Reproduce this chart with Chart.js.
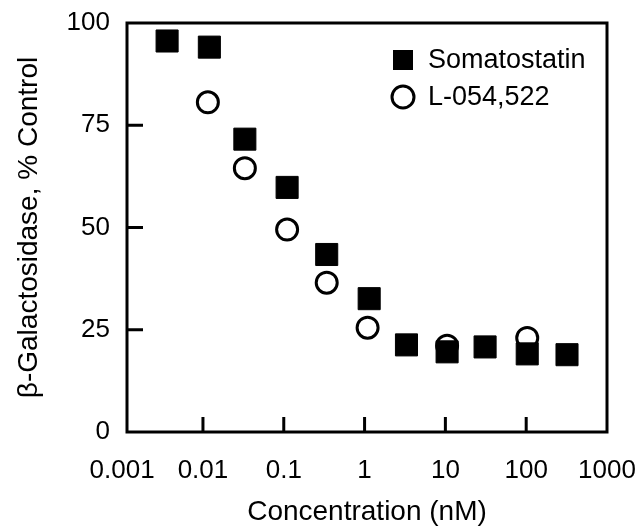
<!DOCTYPE html>
<html>
<head>
<meta charset="utf-8">
<script src="https://cdn.jsdelivr.net/npm/chart.js@4/dist/chart.umd.min.js"></script>
<style>
  body { margin: 0; background: #fff; }
  #wrap { width: 641px; height: 529px; }
</style>
</head>
<body>
<div id="wrap"><canvas id="report"></canvas></div>
<script>
const FONT = '"Liberation Sans", Arial, Helvetica, sans-serif';

// concentrations in nM, response in % of control
const somaConc = [0.0036, 0.012, 0.033, 0.11, 0.34, 1.14, 3.3, 10.5, 31, 103, 320];
const somaPct = [95.6, 94.1, 71.6, 59.8, 43.4, 32.6, 21.3, 19.6, 20.8, 19.1, 18.9];
const lConc = [0.0115, 0.033, 0.11, 0.34, 1.09, 10.5, 103];
const lPct = [80.6, 64.5, 49.5, 36.5, 25.5, 21.1, 23.0];

const xTicks = [0.001, 0.01, 0.1, 1, 10, 100, 1000];
const yTicks = [0, 25, 50, 75, 100];

// box round the plot with short inward ticks
const frame = {
  id: 'frame',
  beforeDatasetsDraw(chart) {
    const {ctx, chartArea: a, scales} = chart;
    ctx.save();
    ctx.strokeStyle = '#000';
    ctx.lineWidth = 3;
    ctx.strokeRect(a.left, a.top, a.right - a.left, a.bottom - a.top);
    ctx.beginPath();
    xTicks.slice(1, -1).forEach(v => {
      const x = scales.x.getPixelForValue(v);
      ctx.moveTo(x, a.bottom);
      ctx.lineTo(x, a.bottom - 15);
    });
    yTicks.slice(1, -1).forEach(v => {
      const y = scales.y.getPixelForValue(v);
      ctx.moveTo(a.left, y);
      ctx.lineTo(a.left + 16, y);
    });
    ctx.stroke();
    ctx.restore();
  }
};

// legend inside the plot, top right
const legendBox = {
  id: 'legendBox',
  afterDraw(chart) {
    const {ctx, chartArea: a} = chart;
    const x0 = a.right - 204, y0 = a.top + 37;
    ctx.save();
    ctx.font = '27px ' + FONT;
    ctx.textBaseline = 'middle';
    ctx.fillStyle = '#000';
    ctx.strokeStyle = '#000';
    chart.data.datasets.forEach((ds, i) => {
      const y = y0 + i * 37;
      if (ds.pointStyle === 'rect') {
        ctx.fillRect(x0 - 10, y - 10, 20, 20);
      } else {
        ctx.beginPath();
        ctx.lineWidth = 3;
        ctx.arc(x0, y, 11, 0, Math.PI * 2);
        ctx.stroke();
      }
      ctx.fillText(ds.label, x0 + 25, y + 1);
    });
    ctx.restore();
  }
};

new Chart(document.getElementById('report'), {
  type: 'scatter',
  data: {
    datasets: [
      {
        label: 'Somatostatin',
        data: somaConc.map((c, i) => ({x: c, y: somaPct[i]})),
        pointStyle: 'rect',
        pointRadius: 15.6,
        backgroundColor: '#000',
        borderColor: '#000',
        borderWidth: 1
      },
      {
        label: 'L-054,522',
        data: lConc.map((c, i) => ({x: c, y: lPct[i]})),
        pointStyle: 'circle',
        pointRadius: 10.5,
        backgroundColor: '#fff',
        borderColor: '#000',
        borderWidth: 3
      }
    ]
  },
  options: {
    responsive: true,
    maintainAspectRatio: false,
    animation: false,
    events: [],
    layout: {padding: {top: 23, right: 34, left: 0, bottom: 0}},
    plugins: {
      legend: {display: false},
      tooltip: {enabled: false}
    },
    scales: {
      x: {
        type: 'logarithmic',
        min: Math.pow(10, -2.94),
        max: 1000,
        afterBuildTicks: s => { s.ticks = xTicks.map(v => ({value: v})); },
        afterFit: s => { s.height = 97; s.paddingLeft = 0; s.paddingRight = 0; },
        grid: {display: false, drawTicks: false},
        border: {display: false},
        ticks: {
          autoSkip: false, maxRotation: 0, padding: 23, color: '#000',
          font: {family: FONT, size: 26},
          callback: v => String(v)
        },
        title: {
          display: true, text: 'Concentration (nM)', color: '#000',
          font: {family: FONT, size: 28}, padding: {top: 0, bottom: 0}
        }
      },
      y: {
        min: 0,
        max: 100,
        afterBuildTicks: s => { s.ticks = yTicks.map(v => ({value: v})); },
        afterFit: s => { s.width = 127; s.paddingTop = 0; s.paddingBottom = 0; },
        grid: {display: false, drawTicks: false},
        border: {display: false},
        ticks: {padding: 17, color: '#000', font: {family: FONT, size: 26}},
        title: {
          display: true, text: 'β-Galactosidase, % Control', color: '#000',
          font: {family: FONT, size: 28}, padding: {top: 12, bottom: 0}
        }
      }
    }
  },
  plugins: [frame, legendBox]
});
</script>
</body>
</html>
